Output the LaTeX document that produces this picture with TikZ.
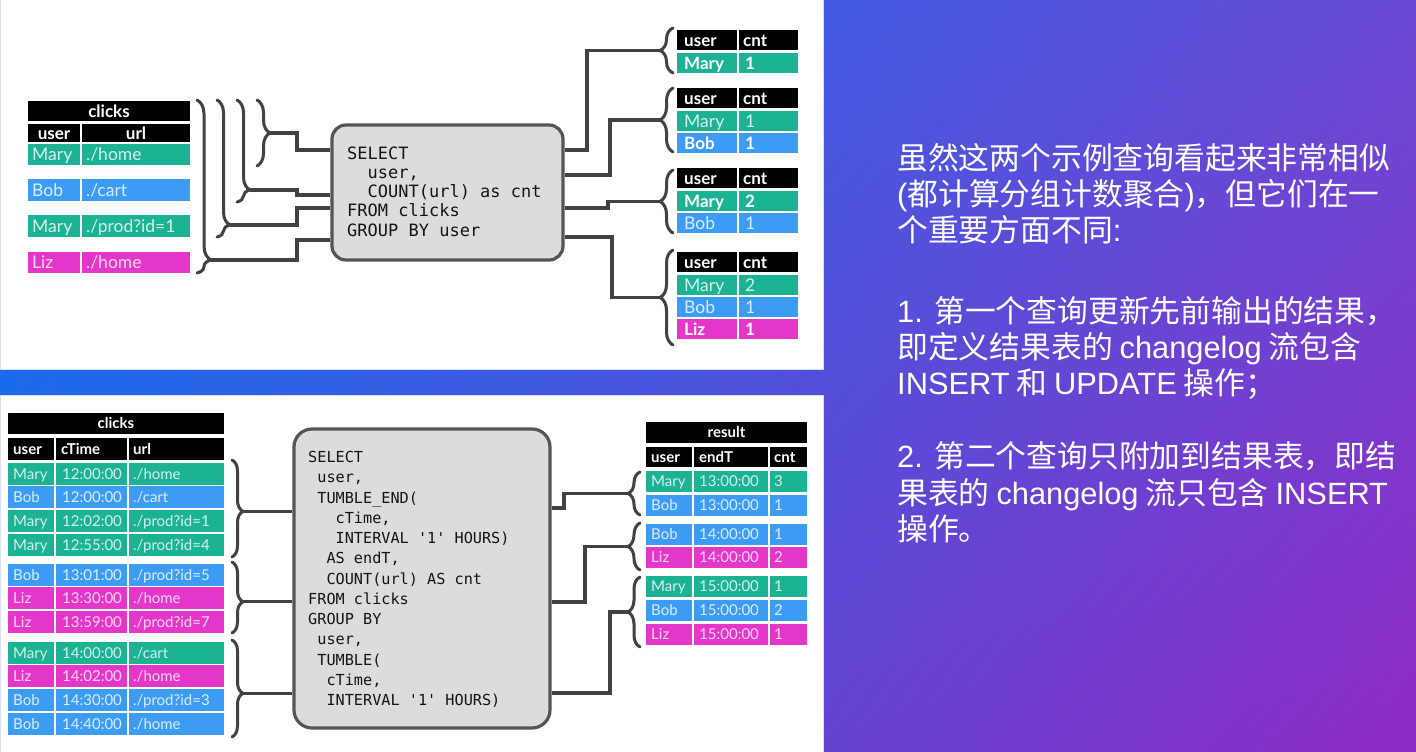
\documentclass[tikz,border=0pt]{standalone}
\usepackage{fontspec}
\usetikzlibrary{decorations.pathreplacing,shadings}

\newfontfamily\tabfont{Lato}
\newfontfamily\codefont{DejaVu Sans Mono}
\newfontfamily\cjkfont{Noto Sans CJK SC}
\newfontfamily\latfont{Liberation Sans}

\definecolor{cgreen}{HTML}{1BB394}
\definecolor{cblue}{HTML}{3C9CF4}
\definecolor{cpink}{HTML}{E436C8}
\definecolor{wirec}{HTML}{424242}
\definecolor{qfill}{HTML}{DCDCDC}
\definecolor{qline}{HTML}{555555}
\definecolor{bgul}{HTML}{0A73F5}
\definecolor{bgur}{HTML}{6A4AD4}
\definecolor{bgll}{HTML}{2864E1}
\definecolor{bglr}{HTML}{8E2AC4}
\definecolor{panelrim}{HTML}{D6DEF6}

% indentation in monospaced code, counted in characters
\newcommand\ind[1]{\hspace*{#1\dimexpr0.602em\relax}}
% Latin words inside the Chinese paragraph
\newcommand\lt[1]{{\latfont #1}}

% one table row: name, top, bottom, fill, text style, list of left/right/text-x/text
\newcommand\tabrow[6]{%
  \foreach \xa/\xb/\cx/\ct [count=\cn] in {#6}{%
    \fill[#4] (\xa,#2) rectangle (\xb,#3);
    \node[#5] (#1-\cn) at (\cx,{(#2+#3)/2}) {\ct};
  }}

% stacked code lines: name, x, first baseline, pitch, font size, lines
\newcommand\codelines[6]{%
  \foreach \ln [count=\cn] in {#6}{%
    \node[codetxt=#5, anchor=base west] (#1-\cn) at (#2,{#3+(\cn-1)*#4}) {\ln};
  }}

\tikzset{
  x=1pt, y=-1pt,
  panel/.style={fill=white, draw=panelrim, line width=1pt},
  cellbase/.style={inner sep=0pt, text=white, anchor=west},
  bigcell/.style={cellbase, font=\tabfont\fontsize{17.5}{19}\selectfont, text height=12.4pt, text depth=0pt},
  bigbold/.style={bigcell, font=\tabfont\bfseries\fontsize{17}{19}\selectfont},
  bigthin/.style={bigcell, text opacity=0.82},
  smallcell/.style={cellbase, font=\tabfont\fontsize{15}{17}\selectfont, text height=10.8pt, text depth=0pt},
  smallbold/.style={smallcell, font=\tabfont\bfseries\fontsize{15}{17}\selectfont},
  smallthin/.style={smallcell, text opacity=0.82},
  codetxt/.style={inner sep=0pt, text=black!92, font=\codefont\fontsize{#1}{#1}\selectfont},
  qbox/.style={draw=qline, fill=qfill, line width=3.2pt, rounded corners=#1, inner sep=0pt},
  conn/.style={draw=wirec, line width=3.2pt},
  brc/.style={draw=wirec, line width=3pt, line cap=round, decorate, decoration={brace,#1}},
  note/.style={inner sep=0pt, anchor=base west, text=white, font=\cjkfont\fontsize{30.8}{37}\selectfont},
}

\begin{document}
\begin{tikzpicture}
\useasboundingbox (0,0) rectangle (1416,752);

% backdrop and the two white panels
\shade[upper left=bgul, upper right=bgur, lower left=bgll, lower right=bglr] (0,0) rectangle (1416,752);
\path[panel] (0,0) rectangle (823,369);
\path[panel] (0,395) rectangle (823,752);

% ---------------- upper query ----------------
% input table
\fill[black] (28,101) rectangle (190,121);
\node[bigbold, anchor=center] (tlh) at (109,111) {clicks};
\fill[black] (28,124) rectangle (80,142);
\fill[black] (82,124) rectangle (190,142);
\node[bigbold, anchor=center] (tlh-1) at (54,133) {user};
\node[bigbold, anchor=center] (tlh-2) at (136,133) {url};
\tabrow{tl1}{144}{165}{cgreen}{bigthin}{28/80/32/Mary, 82/190/86/{./home}}
\tabrow{tl2}{179}{201}{cblue}{bigthin}{28/80/32/Bob, 82/190/86/{./cart}}
\tabrow{tl3}{215}{237}{cgreen}{bigthin}{28/80/32/Mary, 82/190/86/{./prod?id=1}}
\tabrow{tl4}{252}{273}{cpink}{bigthin}{28/80/32/Liz, 82/190/86/{./home}}

% growing prefixes of the input
\draw[brc={amplitude=13pt, aspect=0.5}] (257,100) -- (257,166);
\draw[brc={amplitude=13pt, aspect=0.882}] (237,100) -- (237,202);
\draw[brc={amplitude=13pt, aspect=0.912}] (217,100) -- (217,237);
\draw[brc={amplitude=14pt, aspect=0.925}] (197,100) -- (197,273);
\coordinate (lt1) at (270,133);
\coordinate (lt2) at (250,190);
\coordinate (lt3) at (230,225);
\coordinate (lt4) at (211,260);

% query box
\node[qbox=14pt, minimum width=231pt, minimum height=135pt] (q1) at (447.5,192.5) {};
\codelines{qa}{347}{159}{19.25}{17}{{SELECT},{\ind{2}user,},{\ind{2}COUNT(url) as cnt},{FROM clicks},{GROUP BY user}}

\draw[conn] (lt1) -- (297,133) -- (297,150) -- (q1.west |- 0,150);
\draw[conn] (lt2) -- (297,190) -- (297,195) -- (q1.west |- 0,195);
\draw[conn] (lt3) -- (297,225) -- (297,208) -- (q1.west |- 0,208);
\draw[conn] (lt4) -- (297,260) -- (297,240) -- (q1.west |- 0,240);

% successive results
\coordinate (rt1) at (660,50.5);
\coordinate (rt2) at (660,120);
\coordinate (rt3) at (660,201.5);
\coordinate (rt4) at (660,297.5);
\draw[conn] (q1.east |- 0,150) -- (587,150) -- (587,50.5) -- (rt1);
\draw[conn] (q1.east |- 0,175) -- (610,175) -- (610,120) -- (rt2);
\draw[conn] (q1.east |- 0,208) -- (608,208) -- (608,201.5) -- (rt3);
\draw[conn] (q1.east |- 0,237) -- (612,237) -- (612,297.5) -- (rt4);

\draw[brc={amplitude=13pt, aspect=0.5}] (673,73) -- (673,28);
\draw[brc={amplitude=13pt, aspect=0.5}] (673,152) -- (673,88);
\draw[brc={amplitude=13pt, aspect=0.5}] (673,233) -- (673,170);
\draw[brc={amplitude=13pt, aspect=0.5}] (673,345) -- (673,250);

\tabrow{ra0}{30}{50}{black}{bigbold}{677/737/684/user, 739/798/743/cnt}
\tabrow{ra1}{53}{73}{cgreen}{bigbold}{677/737/684/Mary, 739/798/745/1}

\tabrow{rb0}{88}{108}{black}{bigbold}{677/737/684/user, 739/798/743/cnt}
\tabrow{rb1}{111}{131}{cgreen}{bigthin}{677/737/684/Mary, 739/798/745/1}
\tabrow{rb2}{133}{153}{cblue}{bigbold}{677/737/684/Bob, 739/798/745/1}

\tabrow{rc0}{168}{188}{black}{bigbold}{677/737/684/user, 739/798/743/cnt}
\tabrow{rc1}{191}{211}{cgreen}{bigbold}{677/737/684/Mary, 739/798/745/2}
\tabrow{rc2}{213}{233}{cblue}{bigthin}{677/737/684/Bob, 739/798/745/1}

\tabrow{rd0}{252}{272}{black}{bigbold}{677/737/684/user, 739/798/743/cnt}
\tabrow{rd1}{275}{295}{cgreen}{bigthin}{677/737/684/Mary, 739/798/745/2}
\tabrow{rd2}{297}{317}{cblue}{bigthin}{677/737/684/Bob, 739/798/745/1}
\tabrow{rd3}{319}{339}{cpink}{bigbold}{677/737/684/Liz, 739/798/745/1}

% ---------------- lower query ----------------
\fill[black] (8,413) rectangle (224,434);
\node[smallbold, anchor=center] (blh) at (116,423.5) {clicks};
\tabrow{bh}{438}{460}{black}{smallbold}{8/54/13/user, 56/127/61/cTime, 129/224/133/url}
\tabrow{b1}{463}{485}{cgreen}{smallthin}{8/54/13/Mary, 56/127/62/{12:00:00}, 129/224/133/{./home}}
\tabrow{b2}{486}{508}{cblue}{smallthin}{8/54/13/Bob, 56/127/62/{12:00:00}, 129/224/133/{./cart}}
\tabrow{b3}{510}{532}{cgreen}{smallthin}{8/54/13/Mary, 56/127/62/{12:02:00}, 129/224/133/{./prod?id=1}}
\tabrow{b4}{534}{556}{cgreen}{smallthin}{8/54/13/Mary, 56/127/62/{12:55:00}, 129/224/133/{./prod?id=4}}
\tabrow{b5}{564}{586}{cblue}{smallthin}{8/54/13/Bob, 56/127/62/{13:01:00}, 129/224/133/{./prod?id=5}}
\tabrow{b6}{587}{609}{cpink}{smallthin}{8/54/13/Liz, 56/127/62/{13:30:00}, 129/224/133/{./home}}
\tabrow{b7}{611}{633}{cpink}{smallthin}{8/54/13/Liz, 56/127/62/{13:59:00}, 129/224/133/{./prod?id=7}}
\tabrow{b8}{642}{664}{cgreen}{smallthin}{8/54/13/Mary, 56/127/62/{14:00:00}, 129/224/133/{./cart}}
\tabrow{b9}{665}{687}{cpink}{smallthin}{8/54/13/Liz, 56/127/62/{14:02:00}, 129/224/133/{./home}}
\tabrow{b10}{689}{711}{cblue}{smallthin}{8/54/13/Bob, 56/127/62/{14:30:00}, 129/224/133/{./prod?id=3}}
\tabrow{b11}{713}{735}{cblue}{smallthin}{8/54/13/Bob, 56/127/62/{14:40:00}, 129/224/133/{./home}}

% hourly windows
\draw[brc={amplitude=11pt, aspect=0.53}] (232,460) -- (232,557);
\draw[brc={amplitude=11pt, aspect=0.56}] (232,562) -- (232,633);
\draw[brc={amplitude=11pt, aspect=0.55}] (232,640) -- (232,737);
\coordinate (lb1) at (243,511.4);
\coordinate (lb2) at (243,601.8);
\coordinate (lb3) at (243,693.4);

\node[qbox=18pt, minimum width=256pt, minimum height=299pt] (q2) at (422,578.5) {};
\codelines{qb}{308}{462.5}{20.25}{15.2}{{SELECT},{\ind{1}user,},{\ind{1}TUMBLE\_END(},{\ind{3}cTime,},{\ind{3}INTERVAL '1' HOURS)},{\ind{2}AS endT,},{\ind{2}COUNT(url) AS cnt},{FROM clicks},{GROUP BY},{\ind{1}user,},{\ind{1}TUMBLE(},{\ind{2}cTime,},{\ind{2}INTERVAL '1' HOURS)}}

\draw[conn] (lb1) -- (q2.west |- lb1);
\draw[conn] (lb2) -- (q2.west |- lb2);
\draw[conn] (lb3) -- (q2.west |- lb3);

\coordinate (rb1) at (628,493.5);
\coordinate (rb2) at (628,546.5);
\coordinate (rb3) at (628,612);
\draw[conn] (q2.east |- 0,508) -- (564,508) -- (564,493.5) -- (rb1);
\draw[conn] (q2.east |- 0,602) -- (585,602) -- (585,546.5) -- (rb2);
\draw[conn] (q2.east |- 0,693) -- (610,693) -- (610,612) -- (rb3);

\draw[brc={amplitude=12pt, aspect=0.5}] (640,515) -- (640,472);
\draw[brc={amplitude=12pt, aspect=0.5}] (640,570) -- (640,523);
\draw[brc={amplitude=12pt, aspect=0.5}] (640,647) -- (640,577);

% result table
\fill[black] (646,422) rectangle (807,443);
\node[smallbold, anchor=center] (brh) at (726.5,432.5) {result};
\tabrow{rh}{447}{467}{black}{smallbold}{646/692/651/user, 694/768/699/endT, 770/807/774/cnt}
\tabrow{r1}{471}{492}{cgreen}{smallthin}{646/692/651/Mary, 694/768/699/{13:00:00}, 770/807/774/3}
\tabrow{r2}{495}{516}{cblue}{smallthin}{646/692/651/Bob, 694/768/699/{13:00:00}, 770/807/774/1}
\tabrow{r3}{524}{545}{cblue}{smallthin}{646/692/651/Bob, 694/768/699/{14:00:00}, 770/807/774/1}
\tabrow{r4}{547}{568}{cpink}{smallthin}{646/692/651/Liz, 694/768/699/{14:00:00}, 770/807/774/2}
\tabrow{r5}{576}{597}{cgreen}{smallthin}{646/692/651/Mary, 694/768/699/{15:00:00}, 770/807/774/1}
\tabrow{r6}{600}{621}{cblue}{smallthin}{646/692/651/Bob, 694/768/699/{15:00:00}, 770/807/774/2}
\tabrow{r7}{624}{645}{cpink}{smallthin}{646/692/651/Liz, 694/768/699/{15:00:00}, 770/807/774/1}

% ---------------- explanation ----------------
\node[note] (txt1) at (897,169) {虽然这两个示例查询看起来非常相似};
\node[note] (txt2) at (897,205) {\lt{(}都计算分组计数聚合\lt{)}，但它们在一};
\node[note] (txt3) at (897,241) {个重要方面不同\lt{:}};
\node[note] (txt4) at (897,322) {\lt{1. }第一个查询更新先前输出的结果，};
\node[note] (txt5) at (897,358) {即定义结果表的 \lt{changelog} 流包含};
\node[note] (txt6) at (897,394) {\lt{INSERT} 和 \lt{UPDATE} 操作；};
\node[note] (txt7) at (897,467) {\lt{2. }第二个查询只附加到结果表，即结};
\node[note] (txt8) at (897,504) {果表的 \lt{changelog} 流只包含 \lt{INSERT}};
\node[note] (txt9) at (897,540) {操作。};
\end{tikzpicture}
\end{document}
